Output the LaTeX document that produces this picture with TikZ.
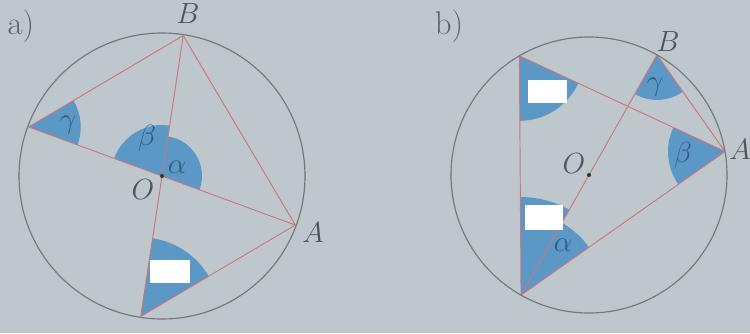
\documentclass[tikz,border=0pt]{standalone}
\usetikzlibrary{calc,angles}
\definecolor{bgc}{RGB}{190,199,203}
\definecolor{circc}{RGB}{118,120,126}
\definecolor{segc}{RGB}{206,116,126}
\definecolor{sectc}{RGB}{92,152,198}
\definecolor{greekc}{RGB}{48,92,132}
\definecolor{lblc}{RGB}{80,84,92}
\begin{document}
\begin{tikzpicture}[x=0.03cm,y=0.03cm,
  circline/.style={draw=circc,line width=1pt},
  segline/.style={draw=segc,line width=0.8pt},
  sector/.style={fill=sectc,draw=none},
  ptlbl/.style={text=lblc,font=\fontsize{26}{30}\selectfont,inner sep=0pt},
  glbl/.style={text=greekc,font=\fontsize{24}{28}\selectfont,inner sep=0pt},
  partlbl/.style={text=lblc!90,font=\fontsize{28}{32}\selectfont,inner sep=0pt},
  wbox/.style={fill=white,draw=none,inner sep=0pt},
  odot/.style={circle,fill=black!80,inner sep=0pt,minimum size=3.5pt}
]
\fill[bgc] (0,0) rectangle (750,-333);
\useasboundingbox (0,0) rectangle (750,-333);

% ---------- figure a ----------
\coordinate (aO) at (162,-176);
\coordinate (aB) at ($(aO)+(81.4:142)$);
\coordinate (aA) at ($(aO)+(-20.2:142)$);
\coordinate (aC) at ($(aO)+(159.8:142)$);
\coordinate (aD) at ($(aO)+(261.4:142)$);

\pic[sector,angle radius=1.56cm] {angle=aA--aC--aB};
\pic[sector,angle radius=1.53cm] {angle=aB--aO--aC};
\pic[sector,angle radius=1.2cm] {angle=aA--aO--aB};
\pic[sector,angle radius=2.37cm] {angle=aA--aD--aB};

\draw[segline] (aC) -- (aB);
\draw[segline] (aB) -- (aA);
\draw[segline] (aA) -- (aD);
\draw[segline] (aC) -- (aA);
\draw[segline] (aB) -- (aD);
\draw[circline] (aO) circle[radius=143];
\node[odot] (aOdot) at (aO) {};

\node[partlbl] (apart) at (21,-26) {a)};
\node[ptlbl] (aBl) at (188,-14) {$B$};
\node[ptlbl] (aOl) at (143,-190) {$O$};
\node[ptlbl] (aAl) at (313,-233) {$A$};
\node[glbl] (agam) at (68,-125) {$\gamma$};
\node[glbl] (abet) at (147,-138) {$\beta$};
\node[glbl] (aalp) at (177,-167) {$\alpha$};
\node[wbox,minimum width=1.2cm,minimum height=0.69cm] (abox) at (170,-271.5) {};

% ---------- figure b ----------
\coordinate (bO) at (589,-175);
\coordinate (bB) at ($(bO)+(60.5:138)$);
\coordinate (bA) at ($(bO)+(9.8:138)$);
\coordinate (bC) at ($(bO)+(120.3:138)$);
\coordinate (bD) at ($(bO)+(240.5:138)$);

\pic[sector,angle radius=1.95cm] {angle=bD--bC--bA};
\pic[sector,angle radius=1.35cm] {angle=bD--bB--bA};
\pic[sector,angle radius=1.71cm] {angle=bC--bA--bD};
\pic[sector,angle radius=2.94cm] {angle=bB--bD--bC};
\pic[sector,angle radius=2.49cm] {angle=bA--bD--bB};

\draw[segline] (bC) -- (bD);
\draw[segline] (bC) -- (bA);
\draw[segline] (bD) -- (bA);
\draw[segline] (bB) -- (bA);
\draw[segline] (bB) -- (bD);
\draw[circline] (bO) circle[radius=138];
\node[odot] (bOdot) at (bO) {};

\node[partlbl] (bpart) at (449,-26) {b)};
\node[ptlbl] (bBl) at (668,-42) {$B$};
\node[ptlbl] (bOl) at (574,-164) {$O$};
\node[ptlbl] (bAl) at (740,-150) {$A$};
\node[glbl] (bgam) at (655,-87) {$\gamma$};
\node[glbl] (bbet) at (683,-155) {$\beta$};
\node[glbl] (balp) at (563,-245) {$\alpha$};
\node[wbox,minimum width=1.17cm,minimum height=0.69cm] (bbox1) at (547.5,-91.5) {};
\node[wbox,minimum width=1.14cm,minimum height=0.75cm] (bbox2) at (544,-217.5) {};
\end{tikzpicture}
\end{document}
